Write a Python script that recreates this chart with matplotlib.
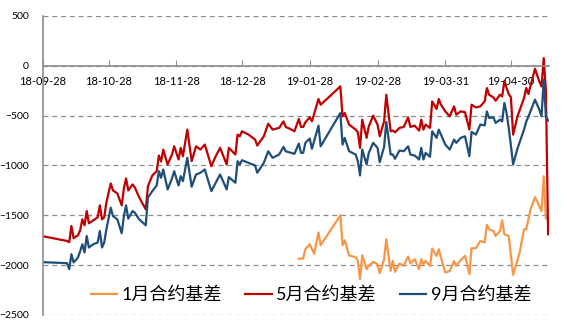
import matplotlib
matplotlib.use("Agg")
import matplotlib.pyplot as plt
import pandas as pd

plt.rcParams["font.family"] = ["Lato", "Noto Sans CJK SC", "DejaVu Sans"]

# 5月 / 9月 contract basis share the same trading dates
dates = [
    "2018-09-28", "2018-10-09", "2018-10-10", "2018-10-11", "2018-10-12", "2018-10-14",
    "2018-10-15", "2018-10-16", "2018-10-17", "2018-10-18", "2018-10-19", "2018-10-21",
    "2018-10-23", "2018-10-24", "2018-10-25", "2018-10-26", "2018-10-27", "2018-10-29",
    "2018-10-30", "2018-11-01", "2018-11-03", "2018-11-04", "2018-11-05", "2018-11-06",
    "2018-11-08", "2018-11-09", "2018-11-11", "2018-11-14", "2018-11-15", "2018-11-17",
    "2018-11-19", "2018-11-20", "2018-11-21", "2018-11-22", "2018-11-24", "2018-11-26",
    "2018-11-27", "2018-11-29", "2018-11-30", "2018-12-01", "2018-12-03", "2018-12-05",
    "2018-12-07", "2018-12-09", "2018-12-11", "2018-12-14", "2018-12-16", "2018-12-18",
    "2018-12-21", "2018-12-22", "2018-12-25", "2018-12-26", "2018-12-27", "2018-12-28",
    "2018-12-31", "2019-01-03", "2019-01-04", "2019-01-07", "2019-01-09", "2019-01-11",
    "2019-01-14", "2019-01-16", "2019-01-17", "2019-01-19", "2019-01-21", "2019-01-23",
    "2019-01-24", "2019-01-25", "2019-01-26", "2019-01-28", "2019-01-29", "2019-02-01",
    "2019-02-02", "2019-02-11", "2019-02-12", "2019-02-13", "2019-02-15", "2019-02-18",
    "2019-02-19", "2019-02-20", "2019-02-21", "2019-02-23", "2019-02-24", "2019-02-26",
    "2019-02-28", "2019-03-01", "2019-03-03", "2019-03-04", "2019-03-06", "2019-03-07",
    "2019-03-08", "2019-03-10", "2019-03-12", "2019-03-14", "2019-03-15", "2019-03-17",
    "2019-03-19", "2019-03-20", "2019-03-21", "2019-03-22", "2019-03-24", "2019-03-25",
    "2019-03-27", "2019-03-28", "2019-03-29", "2019-03-31", "2019-04-02", "2019-04-04",
    "2019-04-05", "2019-04-07", "2019-04-09", "2019-04-11", "2019-04-12", "2019-04-14",
    "2019-04-16", "2019-04-18", "2019-04-19", "2019-04-20", "2019-04-22", "2019-04-23",
    "2019-04-25", "2019-04-26", "2019-04-27", "2019-04-28", "2019-04-29", "2019-04-30",
    "2019-05-01", "2019-05-03", "2019-05-06", "2019-05-07", "2019-05-08", "2019-05-11",
    "2019-05-13", "2019-05-14", "2019-05-15", "2019-05-16", "2019-05-17",
]

basis_may = [
    -1710, -1757, -1770, -1607, -1730, -1700,
    -1650, -1540, -1600, -1457, -1580, -1550,
    -1520, -1400, -1540, -1520, -1370, -1180,
    -1250, -1280, -1400, -1230, -1130, -1250,
    -1190, -1220, -1320, -1440, -1207, -1100,
    -1057, -900, -960, -840, -990, -890,
    -807, -940, -823, -907, -640, -957,
    -807, -840, -790, -1007, -907, -823,
    -990, -823, -890, -690, -707, -657,
    -690, -740, -800, -707, -580, -640,
    -623, -557, -613, -633, -657, -533,
    -613, -613, -567, -517, -557, -333,
    -390, -207, -507, -473, -590, -640,
    -667, -823, -540, -723, -607, -500,
    -590, -707, -557, -290, -657, -650,
    -667, -623, -613, -517, -613, -600,
    -650, -540, -640, -590, -623, -357,
    -433, -333, -390, -457, -507, -407,
    -490, -457, -465, -640, -390, -417,
    -407, -357, -223, -290, -317, -350,
    -290, -307, -150, -223, -283, -317,
    -690, -507, -323, -223, -283, -30,
    -157, -207, 77, -250, -1690,
]

basis_sep = [
    -1970, -1980, -2040, -1890, -1973, -1923,
    -1860, -1790, -1873, -1707, -1823, -1790,
    -1773, -1657, -1823, -1773, -1640, -1423,
    -1507, -1540, -1680, -1507, -1400, -1533,
    -1457, -1473, -1540, -1600, -1323, -1257,
    -1200, -1057, -1123, -1040, -1240, -1130,
    -1057, -1200, -1107, -1157, -923, -1213,
    -1090, -1073, -1040, -1257, -1173, -1090,
    -1240, -1117, -1173, -957, -990, -947,
    -973, -1000, -1073, -973, -857, -923,
    -890, -813, -857, -870, -883, -780,
    -873, -873, -773, -730, -833, -600,
    -807, -473, -790, -723, -857, -890,
    -957, -1100, -840, -990, -873, -773,
    -823, -967, -813, -563, -890, -890,
    -933, -850, -857, -807, -890, -900,
    -940, -823, -940, -873, -913, -657,
    -723, -640, -690, -790, -840, -740,
    -773, -723, -707, -907, -663, -690,
    -590, -597, -457, -523, -517, -573,
    -540, -557, -373, -473, -623, -800,
    -990, -830, -640, -560, -510, -340,
    -440, -507, -140, -507, -550,
]

# 1月 contract basis, listed from late January
dates_jan = [
    "2019-01-23", "2019-01-25", "2019-01-26", "2019-01-28", "2019-01-30", "2019-02-01",
    "2019-02-02", "2019-02-11", "2019-02-12", "2019-02-13", "2019-02-15", "2019-02-18",
    "2019-02-19", "2019-02-20", "2019-02-21", "2019-02-23", "2019-02-24", "2019-02-26",
    "2019-02-28", "2019-03-01", "2019-03-03", "2019-03-04", "2019-03-06", "2019-03-07",
    "2019-03-08", "2019-03-10", "2019-03-12", "2019-03-14", "2019-03-15", "2019-03-17",
    "2019-03-19", "2019-03-20", "2019-03-21", "2019-03-22", "2019-03-24", "2019-03-25",
    "2019-03-27", "2019-03-28", "2019-03-29", "2019-03-31", "2019-04-02", "2019-04-04",
    "2019-04-05", "2019-04-07", "2019-04-09", "2019-04-11", "2019-04-12", "2019-04-14",
    "2019-04-16", "2019-04-18", "2019-04-19", "2019-04-20", "2019-04-22", "2019-04-23",
    "2019-04-25", "2019-04-26", "2019-04-27", "2019-04-29", "2019-05-01", "2019-05-04",
    "2019-05-06", "2019-05-07", "2019-05-09", "2019-05-11", "2019-05-13", "2019-05-14",
    "2019-05-15", "2019-05-16",
]

basis_jan = [
    -1935, -1933, -1840, -1790, -1885, -1673,
    -1800, -1500, -1800, -1750, -1903, -1920,
    -1957, -2140, -1900, -2040, -2007, -1967,
    -1990, -2080, -1940, -1740, -2057, -1957,
    -2067, -1983, -2007, -1913, -1983, -1940,
    -2040, -1940, -1990, -1957, -2007, -1833,
    -1907, -1840, -1923, -2073, -2060, -1960,
    -2007, -1950, -1907, -2090, -1830, -1830,
    -1757, -1773, -1597, -1640, -1657, -1707,
    -1657, -1550, -1690, -1707, -2097, -1873,
    -1640, -1640, -1440, -1317, -1407, -1457,
    -1107, -1530,
]

tick_labels = ["18-09-28", "18-10-28", "18-11-28", "18-12-28",
               "19-01-28", "19-02-28", "19-03-31", "19-04-30"]

x = pd.to_datetime(dates)
x_jan = pd.to_datetime(dates_jan)
ticks = pd.to_datetime(["20" + t for t in tick_labels])

fig = plt.figure(figsize=(5.67, 3.25), dpi=100)
ax = fig.add_axes([0.0758, 0.0308, 0.8924, 0.92])

ax.plot(x_jan, basis_jan, color="#F79646", lw=1.6, label="1月合约基差")
ax.plot(x, basis_may, color="#C00000", lw=1.6, label="5月合约基差")
ax.plot(x, basis_sep, color="#1F4E79", lw=1.6, label="9月合约基差")

start = pd.Timestamp("2018-09-28")
ax.set_xlim(start, start + pd.Timedelta(days=231.4))
ax.set_ylim(-2500, 500)
ax.set_yticks(range(-2500, 501, 500))
ax.set_xticks(ticks)
ax.set_xticklabels(tick_labels)

ax.grid(axis="y", linestyle=(0, (4, 3)), color="#8C8C8C", lw=0.9)
ax.set_axisbelow(True)

for side in ["top", "right"]:
    ax.spines[side].set_visible(False)
ax.spines["bottom"].set_position(("data", 0))
ax.spines["bottom"].set_color("#8C8C8C")
ax.spines["left"].set_color("#8C8C8C")
ax.spines["bottom"].set_linewidth(1.2)
ax.spines["left"].set_linewidth(1.2)

ax.tick_params(axis="x", direction="in", length=4, color="#8C8C8C", pad=7, labelsize=8)
ax.tick_params(axis="y", length=0, pad=10, labelsize=7.5)

ax.legend(loc="center", bbox_to_anchor=(0.53, 0.067), ncol=3, frameon=False,
          fontsize=13, handlelength=1.45, columnspacing=1.3, handletextpad=0.25)

fig.savefig("out.png", dpi=100)
